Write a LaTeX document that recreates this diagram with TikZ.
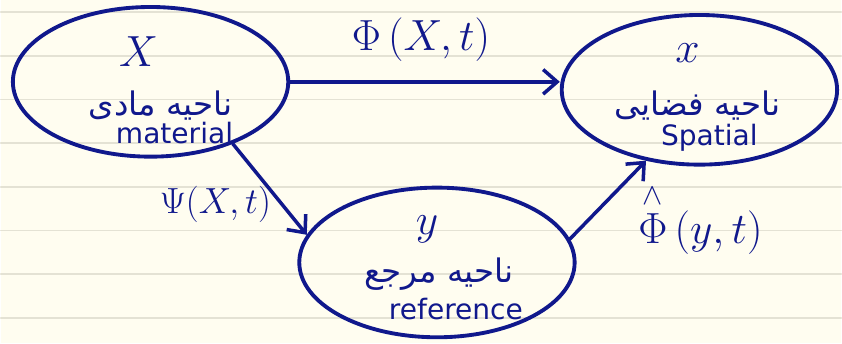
\documentclass[tikz,border=0pt]{standalone}
\usepackage{fontspec}
\usepackage{amsmath}
\usetikzlibrary{shapes.geometric, arrows.meta}
\TeXXeTstate=1
\newfontfamily\farsifont[Script=Arabic]{DejaVu Sans}
\newfontfamily\handfont{DejaVu Sans}
\definecolor{ink}{RGB}{16,24,140}
\definecolor{paper}{RGB}{255,253,240}
\definecolor{ruling}{RGB}{228,226,212}
\begin{document}
\begin{tikzpicture}[x=0.02cm, y=-0.02cm, line cap=round, line join=round,
  region/.style={draw=ink, line width=2.2pt, ellipse, minimum width=5.52cm, minimum height=3cm},
  map/.style={draw=ink, line width=2pt, -{Straight Barb[length=8pt, width=14pt, line width=2pt]}},
  sym/.style={text=ink, inner sep=0pt, font=\fontsize{24}{28}\selectfont},
  fa/.style={text=ink, inner sep=0pt, font=\farsifont\fontsize{18.5}{22}\selectfont},
  en/.style={text=ink, inner sep=0pt, font=\handfont\fontsize{16}{19}\selectfont}]
  % lined paper
  \fill[paper] (0,0) rectangle (842,344);
  \foreach \k in {0,...,7}
    \draw[ruling, line width=1pt] (0,{12+43.8*\k}) -- (842,{12+43.8*\k});
  \useasboundingbox (0,0) rectangle (842,344);
  % the three regions
  \node[region] (material)  at (150,82)  {};
  \node[region] (spatial)   at (700,90)  {};
  \node[region] (reference) at (437,263) {};
  % material region
  \node[sym] (Xmat)  at (138,52)  {$X$};
  \node[fa]  (famat) at (160,106) {\beginR ناحیه مادی\endR};
  \node[en]  (enmat) at (174,133) {material};
  % spatial region
  \node[sym] (xspa)  at (688,53)  {$x$};
  \node[fa]  (faspa) at (698,106) {\beginR ناحیه فضایی\endR};
  \node[en]  (enspa) at (710,138) {Spatial};
  % reference region
  \node[sym] (yref)  at (427,230) {$y$};
  \node[fa]  (faref) at (439,275) {\beginR ناحیه مرجع\endR};
  \node[en]  (enref) at (456,310) {reference};
  % mappings
  \draw[map] (material.east) -- (material.east -| spatial.west);
  \draw[map] (material.-37) -- (reference.168);
  \draw[map] (reference.10) -- (spatial.233);
  \node[sym] (phi)    at (421,40)  {$\Phi\,(X,t)$};
  \node[sym, font=\fontsize{20}{24}\selectfont] (psi) at (215,205) {$\Psi(X,t)$};
  \node[sym, anchor=base] (phihat) at (701,244) {$\overset{\wedge}{\Phi}\,(y,t)$};
\end{tikzpicture}
\end{document}
